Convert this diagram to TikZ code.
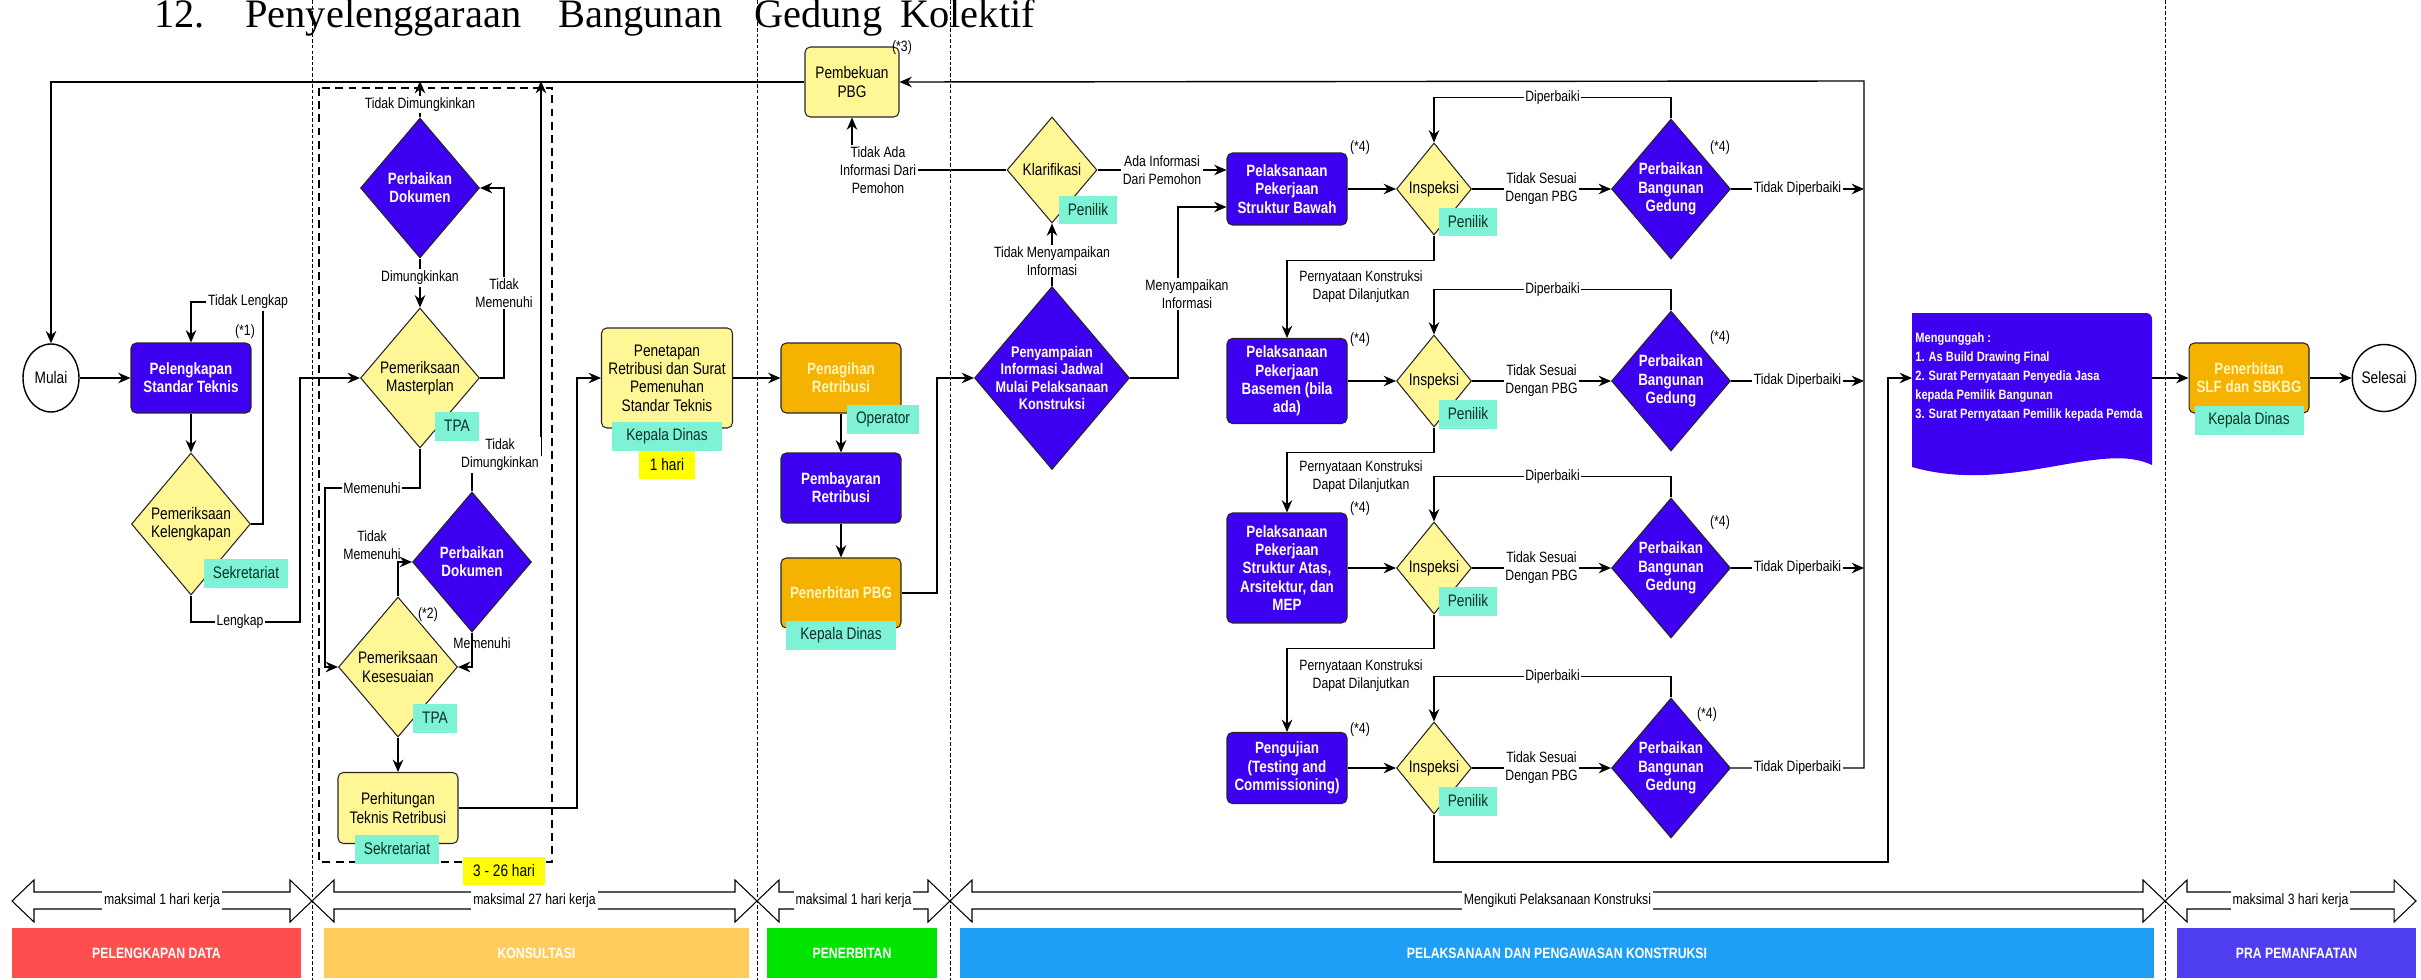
\documentclass[tikz,border=0pt]{standalone}
\usepackage{fontspec}
\setmainfont{Liberation Sans}[FakeStretch=0.82]
\newfontfamily\titlefont{Liberation Serif}
\usetikzlibrary{shapes.geometric,arrows.meta}

\definecolor{flowblue}{RGB}{62,0,240}
\definecolor{flowyellow}{RGB}{255,246,150}
\definecolor{floworange}{RGB}{245,178,0}
\definecolor{orangetext}{RGB}{255,246,190}
\definecolor{tagcyan}{RGB}{125,242,212}
\definecolor{tagtext}{RGB}{10,50,35}
\definecolor{tagyellow}{RGB}{255,255,0}
\definecolor{phasered}{RGB}{255,78,78}
\definecolor{phaseorange}{RGB}{255,204,92}
\definecolor{phasegreen}{RGB}{0,228,0}
\definecolor{phaseblue}{RGB}{30,158,245}
\definecolor{phasepurple}{RGB}{78,62,240}

\tikzset{
  boxtxt/.style={font=\fontsize{9.5}{10.4}\selectfont},
  boldtxt/.style={font=\bfseries\fontsize{9.3}{10.4}\selectfont},
  procbox/.style={rectangle, rounded corners=3pt, draw=black!85, line width=0.6pt, minimum width=2.4cm, minimum height=1.4cm, align=center, inner sep=1pt, boxtxt},
  bluebox/.style={procbox, fill=flowblue, text=white, boldtxt},
  yellowbox/.style={procbox, fill=flowyellow},
  orangebox/.style={procbox, fill=floworange, text=orangetext, boldtxt},
  choice/.style={diamond, draw=black!85, line width=0.6pt, align=center, inner sep=0pt, minimum width=2.38cm, minimum height=2.8cm, aspect=0.85, boxtxt},
  bluechoice/.style={choice, fill=flowblue, text=white, boldtxt},
  yellowchoice/.style={choice, fill=flowyellow},
  smallchoice/.style={yellowchoice, minimum width=1.5cm, minimum height=1.84cm, aspect=0.82},
  terminal/.style={ellipse, draw, line width=0.8pt, fill=white, inner sep=0pt, boxtxt},
  actor/.style={fill=tagcyan, text=tagtext, minimum height=0.58cm, inner xsep=5pt, inner ysep=1pt, font=\fontsize{9.5}{10}\selectfont},
  durasi/.style={fill=tagyellow, minimum height=0.57cm, inner xsep=6pt, inner ysep=1pt, font=\fontsize{9.5}{10}\selectfont},
  lbl/.style={fill=white, inner sep=1pt, align=center, font=\fontsize{8.5}{10.2}\selectfont},
  note/.style={inner sep=0pt, font=\fontsize{8.5}{10}\selectfont},
  wire/.style={line width=0.8pt},
  conn/.style={wire, -{Stealth[length=7pt,width=6pt]}},
  phaseline/.style={line width=0.5pt, dash pattern=on 2pt off 1.2pt},
  spanarrow/.style={line width=0.6pt},
  spanlbl/.style={fill=white, inner xsep=1pt, inner ysep=0pt, minimum height=0.4cm, font=\fontsize{8.5}{9}\selectfont},
  phasetxt/.style={text=white, font=\bfseries\fontsize{8.5}{9}\selectfont},
  titletxt/.style={anchor=base west, inner sep=0pt, font=\titlefont\fontsize{23}{26}\selectfont}
}

\begin{document}
\begin{tikzpicture}[x=0.02cm, y=-0.02cm]

\useasboundingbox (0,0) rectangle (2421,980);

\node[titletxt] (title1) at (154,28) {12.};
\node[titletxt] (title2) at (245,28) {Penyelenggaraan};
\node[titletxt] (title3) at (558,28) {Bangunan};
\node[titletxt] (title4) at (754,28) {Gedung};
\node[titletxt] (title5) at (900,28) {Kolektif};

\foreach \sx in {312,757,950,2165}
  \draw[phaseline] (\sx,0) -- (\sx,980);

\draw[line width=1.4pt, dash pattern=on 4.5pt off 3pt] (319,88) rectangle (552,862);

\coordinate (topR) at (1864,81);

\node[terminal, minimum width=1.12cm, minimum height=1.36cm] (mulai) at (51,378) {Mulai};
\node[bluebox] (pel) at (191,378) {Pelengkapan\\Standar Teknis};
\node[yellowchoice, minimum height=2.84cm] (kel) at (191,524) {Pemeriksaan\\Kelengkapan};

\node[bluechoice] (pdok1) at (420,188) {Perbaikan\\Dokumen};
\node[yellowchoice] (mplan) at (420,378) {Pemeriksaan\\Masterplan};
\node[bluechoice] (pdok2) at (472,562) {Perbaikan\\Dokumen};
\node[yellowchoice] (sesuai) at (398,667) {Pemeriksaan\\Kesesuaian};
\node[yellowbox, minimum height=1.42cm] (hitung) at (398,808) {Perhitungan\\Teknis Retribusi};
\node[yellowbox, minimum width=2.62cm, minimum height=2cm] (penetapan) at (667,378) {Penetapan\\Retribusi dan Surat\\Pemenuhan\\Standar Teknis};

\node[yellowbox, minimum width=1.88cm] (pembekuan) at (852,82) {Pembekuan\\PBG};
\node[orangebox] (tagih) at (841,378) {Penagihan\\Retribusi};
\node[bluebox] (bayar) at (841,488) {Pembayaran\\Retribusi};
\node[orangebox] (terbit) at (841,593) {Penerbitan PBG};

\node[yellowchoice, minimum width=1.8cm, minimum height=2.12cm] (klar) at (1052,170) {Klarifikasi};
\node[bluechoice, minimum width=3.1cm, minimum height=3.66cm, inner sep=-4pt, font=\bfseries\fontsize{8.8}{10}\selectfont] (jadwal) at (1052,378) {Penyampaian\\Informasi Jadwal\\Mulai Pelaksanaan\\Konstruksi};
\node[bluebox, minimum height=1.44cm] (bawah) at (1287,189) {Pelaksanaan\\Pekerjaan\\Struktur Bawah};
\node[bluebox, minimum height=1.7cm] (basemen) at (1287,381) {Pelaksanaan\\Pekerjaan\\Basemen (bila\\ada)};
\node[bluebox, minimum height=2.2cm] (atas) at (1287,568) {Pelaksanaan\\Pekerjaan\\Struktur Atas,\\Arsitektur, dan\\MEP};
\node[bluebox, minimum height=1.42cm] (uji) at (1287,768) {Pengujian\\(Testing and\\Commissioning)};

\foreach \rw/\ry in {1/189, 2/381, 3/568, 4/768} {
  \node[smallchoice] (insp\rw) at (1434,\ry) {Inspeksi};
  \node[bluechoice] (pbg\rw) at (1671,\ry) {Perbaikan\\Bangunan\\Gedung};
}

\fill[flowblue] (1912,313) -- (2146,313) to[out=0,in=90] (2152,319) -- (2152,465) .. controls (2100,440) and (2010,495) .. (1912,467) -- cycle;
\node[anchor=north west, align=left, inner sep=0pt, text=white, font=\bfseries\fontsize{7.7}{10.9}\selectfont] (upload) at (1915,332) {Mengunggah :\\1. As Build Drawing Final\\2. Surat Pernyataan Penyedia Jasa\\kepada Pemilik Bangunan\\3. Surat  Pernyataan Pemilik kepada Pemda};
\coordinate (docL) at (1912,378);
\coordinate (docR) at (2152,378);

\node[orangebox] (slf) at (2249,378) {Penerbitan\\SLF dan SBKBG};
\node[terminal, minimum width=1.1cm, minimum height=1.34cm] (selesai) at (2384,378) {Selesai};

\draw[conn] (mulai) -- (pel);
\draw[conn] (pel) -- (kel);
\draw[conn] (kel.east) -| (263,302) -| (pel.north);
\node[lbl] (tdklengkap) at (248,302) {Tidak Lengkap};
\draw[conn] (kel.south) |- (300,622) |- (mplan.west);
\node[lbl] (lengkap) at (240,622) {Lengkap};

\draw[conn] (pdok1.north) -- node[lbl, pos=0.35] (tdm1) {Tidak Dimungkinkan} (pdok1.north |- topR);
\draw[conn] (pdok1.south) -- node[lbl, pos=0.4] (dm1) {Dimungkinkan} (mplan.north);
\draw[conn] (mplan.east) -| (504,188) -- (pdok1.east);
\node[lbl] (tm1) at (504,293) {Tidak\\Memenuhi};
\draw[conn] (mplan.south) |- (325,488) |- (sesuai.west);
\node[lbl] (mm1) at (372,488) {Memenuhi};
\coordinate (tdm) at (541,455);
\draw[conn] (pdok2.north) |- (tdm) -- (tdm |- topR);
\node[lbl] (tdm2) at (500,455) {Tidak\\Dimungkinkan};
\draw[conn] (sesuai.north) |- (pdok2.west);
\node[lbl, fill=none] (tm2) at (372,545) {Tidak\\Memenuhi};
\draw[conn] (pdok2.south) |- (sesuai.east);
\node[lbl, fill=none] (mm2) at (482,643) {Memenuhi};
\draw[conn] (sesuai.south) -- (hitung.north);
\draw[conn] (hitung.east) -| (577,378) -- (penetapan.west);
\draw[conn] (penetapan.east) -- (tagih.west);

\draw[conn] (tagih) -- (bayar);
\draw[conn] (bayar) -- (terbit);
\draw[conn] (terbit.east) -| (937,378) -- (jadwal.west);
\draw[conn] (jadwal.north) -- node[lbl, pos=0.4] (tmi) {Tidak Menyampaikan\\Informasi} (klar.south);
\draw[conn] (klar.west) -| (pembekuan.south);
\node[lbl] (tai) at (878,170) {Tidak Ada\\Informasi Dari\\Pemohon};
\draw[conn] (klar.east) -- node[lbl] (adi) {Ada Informasi\\Dari Pemohon} (klar.east -| bawah.west);
\coordinate (menyampai) at (1178,207);
\draw[conn] (jadwal.east) -| (menyampai) -- (menyampai -| bawah.west);
\node[lbl] (mi) at (1187,294) {Menyampaikan\\Informasi};

\foreach \bx/\rw in {bawah/1, basemen/2, atas/3, uji/4} {
  \draw[conn] (\bx.east) -- (insp\rw.west);
  \draw[conn] (insp\rw.east) -- node[lbl] (tsd\rw) {Tidak Sesuai\\Dengan PBG} (pbg\rw.west);
  \draw[conn] (pbg\rw.north) -- ++(0,-21) -| node[lbl, pos=0.25] (dpb\rw) {Diperbaiki} (insp\rw.north);
}
\foreach \rw in {1,2,3}
  \draw[conn] (pbg\rw.east) -- node[lbl] (tdp\rw) {Tidak Diperbaiki} (pbg\rw.east -| topR);
\draw[conn] (pbg4.east) -- node[lbl] (tdp4) {Tidak Diperbaiki} (pbg4.east -| topR) -- (topR) -- (pembekuan.east);
\draw[conn] (pembekuan.west) -| (mulai.north);

\draw[conn] (insp1.south) -- ++(0,25) -| (basemen.north);
\node[lbl] (lanjut1) at (1361,287) {Pernyataan Konstruksi\\Dapat Dilanjutkan};
\draw[conn] (insp2.south) -- ++(0,25) -| (atas.north);
\node[lbl] (lanjut2) at (1361,477) {Pernyataan Konstruksi\\Dapat Dilanjutkan};
\draw[conn] (insp3.south) -- ++(0,34) -| (uji.north);
\node[lbl] (lanjut3) at (1361,676) {Pernyataan Konstruksi\\Dapat Dilanjutkan};

\draw[conn] (insp4.south) |- (1888,862) |- (docL);
\draw[conn] (docR) -- (slf.west);
\draw[conn] (slf.east) -- (selesai.west);

\node[actor] (kelact) at (246,573) {Sekretariat};
\node[actor] (mplanact) at (457,426) {TPA};
\node[actor] (sesuaiact) at (435,718) {TPA};
\node[actor] (hitungact) at (397,849) {Sekretariat};
\node[durasi] (hari26) at (504,871) {3 - 26 hari};
\node[actor, minimum width=2.2cm] (penetapanact) at (667,436) {Kepala Dinas};
\node[durasi] (hari1) at (667,465) {1 hari};
\node[actor] (tagihact) at (883,419) {Operator};
\node[actor, minimum width=2.22cm] (terbitact) at (841,635) {Kepala Dinas};
\node[actor] (klaract) at (1088,210) {Penilik};
\foreach \rw/\ry in {1/189, 2/381, 3/568, 4/768}
  \node[actor] (inspact\rw) at (1468,\ry+33) {Penilik};
\node[actor, minimum width=2.18cm] (slfact) at (2249,420) {Kepala Dinas};

\node[note] (note1) at (245,332) {(*1)};
\node[note] (note2) at (428,615) {(*2)};
\node[note] (note3) at (902,48) {(*3)};
\foreach \ny [count=\i] in {148,340,509,730}
  \node[note] (notebox\i) at (1360,\ny) {(*4)};
\node[note] (notepbg1) at (1720,148) {(*4)};
\node[note] (notepbg2) at (1720,338) {(*4)};
\node[note] (notepbg3) at (1720,523) {(*4)};
\node[note] (notepbg4) at (1707,715) {(*4)};

\foreach \xa/\xb/\txt [count=\i] in {12/312/maksimal 1 hari kerja, 312/757/maksimal 27 hari kerja, 757/950/maksimal 1 hari kerja, 950/2165/Mengikuti Pelaksanaan Konstruksi, 2165/2416/maksimal 3 hari kerja} {
  \draw[spanarrow] (\xa,901) -- (\xa+22,880) -- (\xa+22,892) -- (\xb-22,892) -- (\xb-22,880) -- (\xb,901) -- (\xb-22,922) -- (\xb-22,909) -- (\xa+22,909) -- (\xa+22,922) -- cycle;
  \node[spanlbl] (span\i) at ({(\xa+\xb)/2},900.5) {\txt};
}

\foreach \xa/\xb/\col/\txt [count=\i] in {12/301/phasered/PELENGKAPAN DATA, 324/749/phaseorange/KONSULTASI, 767/937/phasegreen/PENERBITAN, 960/2154/phaseblue/PELAKSANAAN DAN PENGAWASAN KONSTRUKSI, 2177/2416/phasepurple/PRA PEMANFAATAN} {
  \fill[\col] (\xa,928) rectangle (\xb,978);
  \node[phasetxt] (phase\i) at ({(\xa+\xb)/2},953) {\txt};
}

\end{tikzpicture}
\end{document}
